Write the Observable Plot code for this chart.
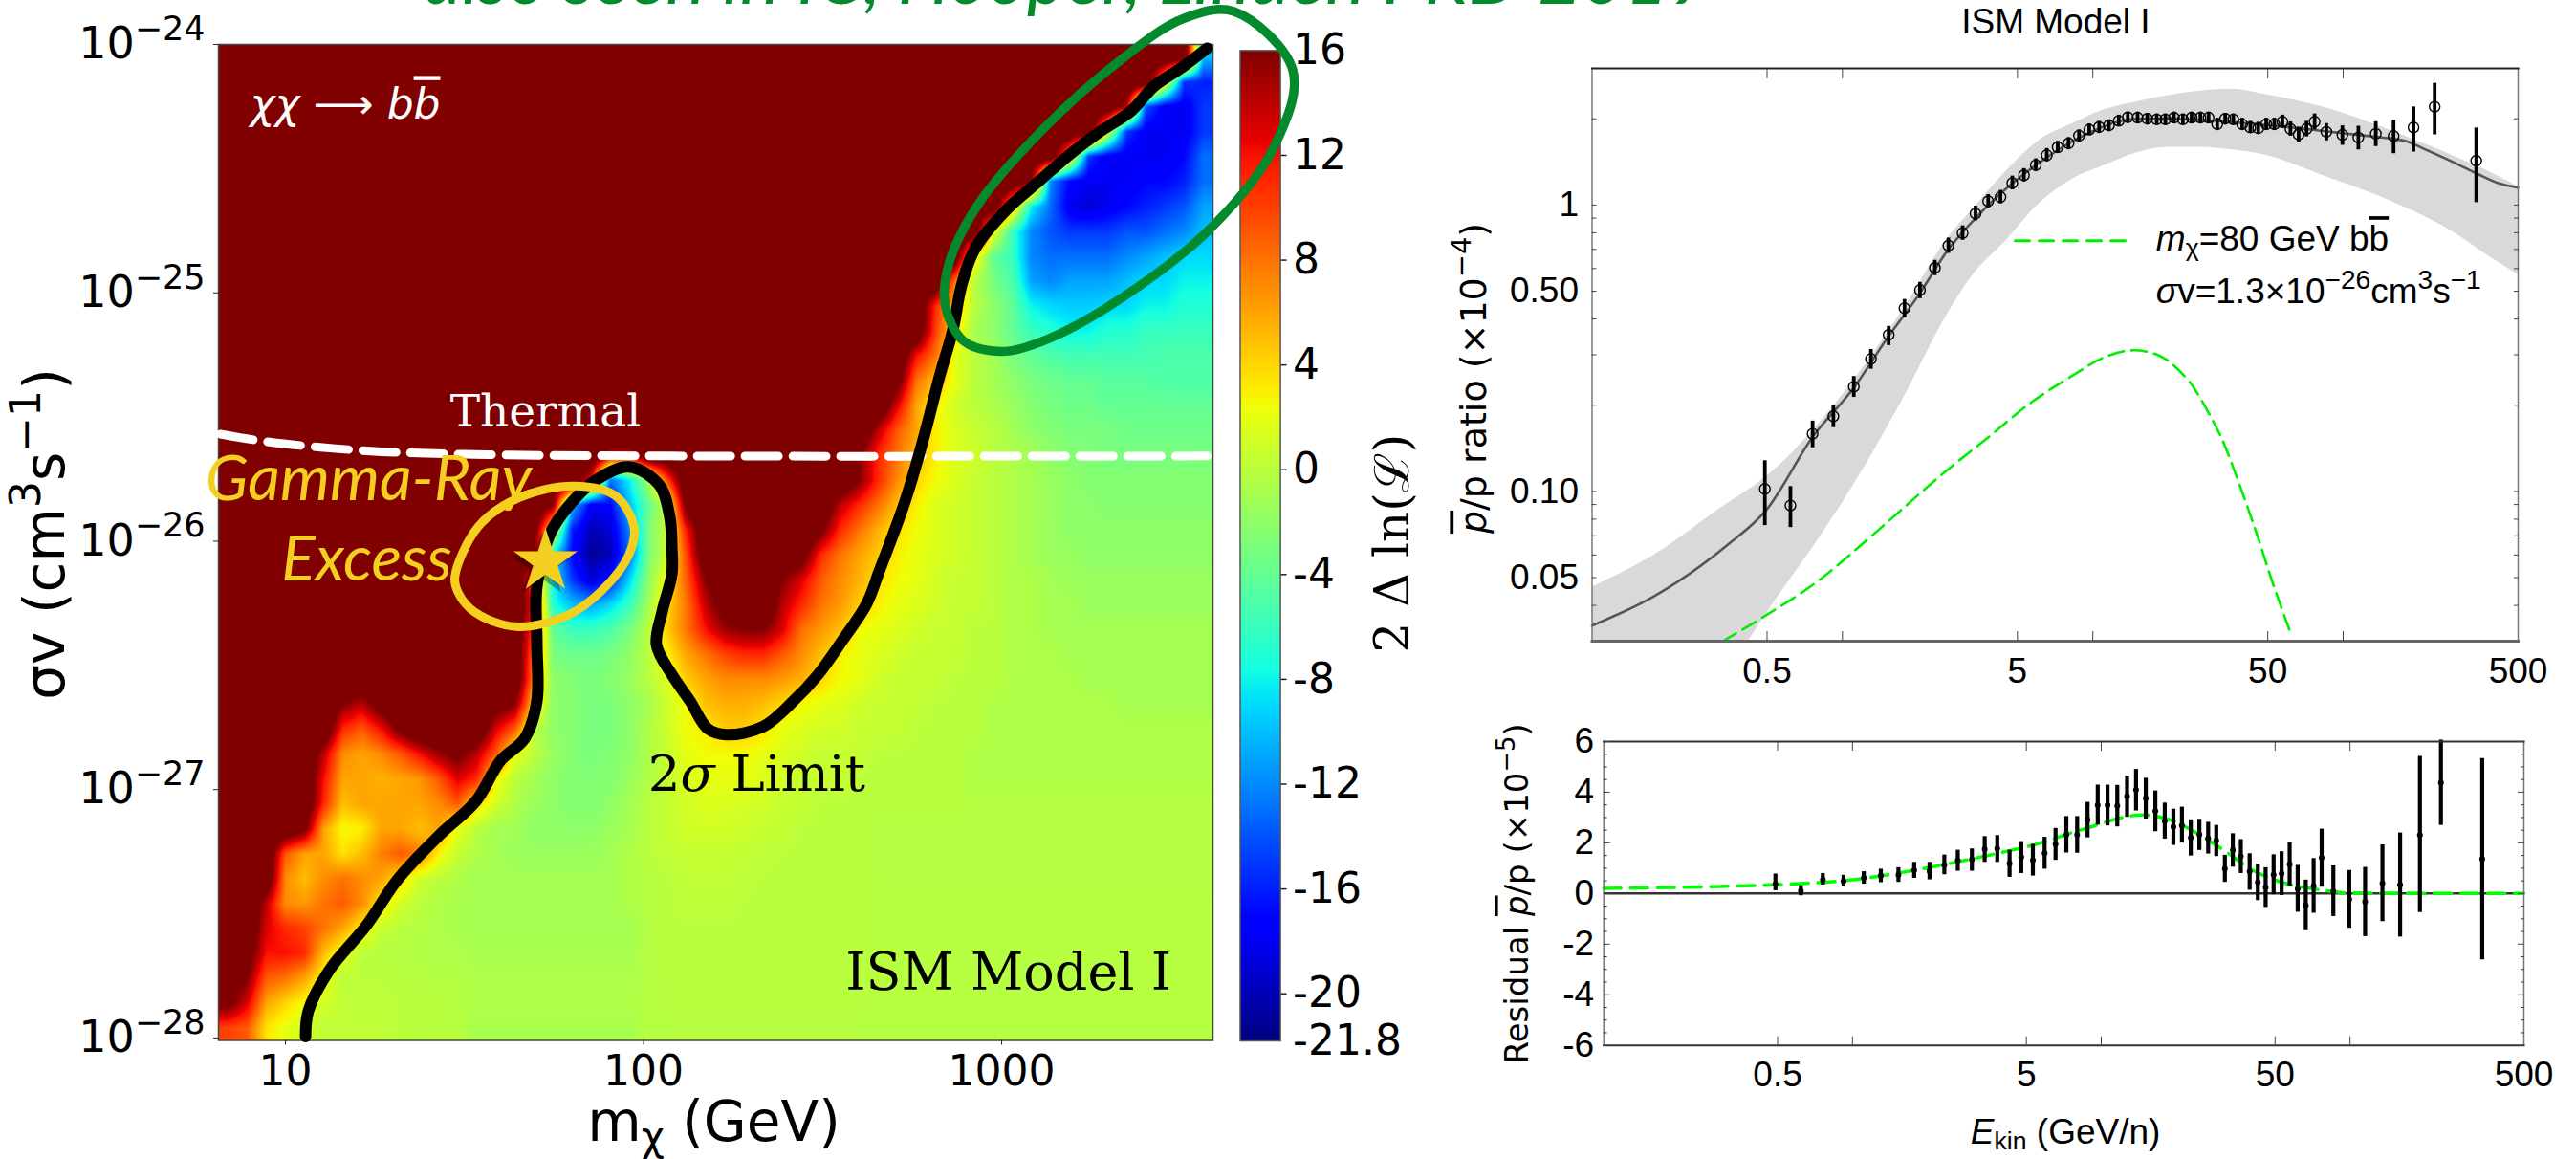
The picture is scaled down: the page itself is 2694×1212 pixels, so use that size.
<!DOCTYPE html>
<html><head><meta charset="utf-8">
<script src="https://cdn.jsdelivr.net/npm/d3@7"></script>
<script src="https://cdn.jsdelivr.net/npm/@observablehq/plot@0.6"></script>
<style>html,body{margin:0;background:#fff;overflow:hidden}#page{position:relative;width:2694px;height:1212px;overflow:hidden}#page svg{position:absolute;left:0;top:0}</style>
</head><body><div id="page"></div>
<script>
// ---------- 2 Delta ln(L) on a regular log-log grid (rows top to bottom) ----------
const fieldRows = [
[20,20,20,20,20,20,20,20,20,20,20,20,20,20,20,20,20,20,20,20,20,20,20,20,20,20,20,20,20,20,20,20,20,20,20,20,20,20,20,20,20,20,20,20,20,20,20,20,20,20,20,-10],
[20,20,20,20,20,20,20,20,20,20,20,20,20,20,20,20,20,20,20,20,20,20,20,20,20,20,20,20,20,20,20,20,20,20,20,20,20,20,20,20,20,20,20,20,20,20,20,20,20,4,-15,-16],
[20,20,20,20,20,20,20,20,20,20,20,20,20,20,20,20,20,20,20,20,20,20,20,20,20,20,20,20,20,20,20,20,20,20,20,20,20,20,20,20,20,20,20,20,20,20,20,14,-14,-18,-18,-15],
[20,20,20,20,20,20,20,20,20,20,20,20,20,20,20,20,20,20,20,20,20,20,20,20,20,20,20,20,20,20,20,20,20,20,20,20,20,20,20,20,20,20,20,20,20,20,2,-15,-18,-18,-18,-15],
[20,20,20,20,20,20,20,20,20,20,20,20,20,20,20,20,20,20,20,20,20,20,20,20,20,20,20,20,20,20,20,20,20,20,20,20,20,20,20,20,20,20,20,20,6,-15,-18,-18,-18,-18,-17,-13],
[20,20,20,20,20,20,20,20,20,20,20,20,20,20,20,20,20,20,20,20,20,20,20,20,20,20,20,20,20,20,20,20,20,20,20,20,20,20,20,20,20,20,16,-12,-17,-18,-18,-18,-17,-17,-16,-13],
[20,20,20,20,20,20,20,20,20,20,20,20,20,20,20,20,20,20,20,20,20,20,20,20,20,20,20,20,20,20,20,20,20,20,20,20,20,20,20,20,20,6,-8,-13,-18,-19,-18,-17,-16,-15,-14,-11],
[20,20,20,20,20,20,20,20,20,20,20,20,20,20,20,20,20,20,20,20,20,20,20,20,20,20,20,20,20,20,20,20,20,20,20,20,20,20,20,20,3,-6,-12,-14,-15,-15,-15,-14,-14,-13,-12,-10],
[20,20,20,20,20,20,20,20,20,20,20,20,20,20,20,20,20,20,20,20,20,20,20,20,20,20,20,20,20,20,20,20,20,20,20,20,20,20,20,4,-4,-6,-12,-13,-13,-13,-13,-12,-11,-10,-9,-9],
[20,20,20,20,20,20,20,20,20,20,20,20,20,20,20,20,20,20,20,20,20,20,20,20,20,20,20,20,20,20,20,20,20,20,20,20,20,20,8,0,-3,-5,-11,-12,-11,-11,-11,-10,-9,-9,-8,-8],
[20,20,20,20,20,20,20,20,20,20,20,20,20,20,20,20,20,20,20,20,20,20,20,20,20,20,20,20,20,20,20,20,20,20,20,20,20,11,5,0,-2,-4,-8,-9,-9.5,-9.5,-9,-9,-8,-8,-7,-7],
[20,20,20,20,20,20,20,20,20,20,20,20,20,20,20,20,20,20,20,20,20,20,20,20,20,20,20,20,20,20,20,20,20,20,20,20,20,10,4,-1,-2,-4,-6,-7,-8,-8,-7,-7,-6,-6,-6,-6],
[20,20,20,20,20,20,20,20,20,20,20,20,20,20,20,20,20,20,20,20,20,20,20,20,20,20,20,20,20,20,20,20,20,20,20,20,12,8,2,0,-1,-3,-4,-5,-5.5,-5.5,-5.5,-5.5,-5.5,-5,-5,-5],
[20,20,20,20,20,20,20,20,20,20,20,20,20,20,20,20,20,20,20,20,20,20,20,20,20,20,20,20,20,20,20,20,20,20,20,18,8,5,2,0,-1,-2,-3,-3.5,-4,-4,-4.5,-4.5,-4.5,-5,-5,-5],
[20,20,20,20,20,20,20,20,20,20,20,20,20,20,20,20,20,20,20,20,20,20,20,20,20,20,20,20,20,20,20,20,20,20,20,13,6,3,1,0,-.5,-1.5,-2.5,-3,-3.5,-3.5,-4,-4,-4,-4,-4,-4],
[20,20,20,20,20,20,20,20,20,20,20,20,20,20,20,20,20,20,20,20,20,20,20,20,20,20,20,20,20,20,20,20,20,20,14,9,6,3,1.5,.5,0,-1,-2,-2.5,-3,-3,-3,-3.5,-3.5,-3.5,-3.5,-3.5],
[20,20,20,20,20,20,20,20,20,20,20,20,20,20,20,20,20,20,20,20,14,14,20,20,20,20,20,20,20,20,20,20,20,16,11,8,5,3,1.5,1,0,-.5,-1,-2,-2.5,-2.5,-3,-3,-3,-3,-3,-3],
[20,20,20,20,20,20,20,20,20,20,20,20,20,20,20,20,20,20,20,12,-13,-8,-1,10,20,20,20,20,20,20,20,20,20,16,11,7,4,2.5,1.5,.5,0,-.5,-1,-1.5,-2,-2.5,-2.5,-2.5,-2.5,-2.5,-2.5,-2.5],
[20,20,20,20,20,20,20,20,20,20,20,20,20,20,20,20,20,16,-10,-18,-17,-10,-4,1,18,20,20,20,20,20,20,20,14,11,8,5,3,1.5,1,.5,0,-.5,-1,-1.5,-2,-2,-2.5,-2.5,-2.5,-2.5,-2.5,-2.5],
[20,20,20,20,20,20,20,20,20,20,20,20,20,20,20,20,18,2,-16,-20,-19,-12,-3,1,12,20,20,20,20,20,20,17,11,8,5.5,3.5,2.5,1.5,1,.5,0,-.5,-1,-1.5,-2,-2,-2,-2,-2,-2,-2,-2],
[20,20,20,20,20,20,20,20,20,20,20,20,20,20,20,20,17,-8,-17,-21,-20,-13,-3,1,10,20,20,20,20,20,18,11,8,6,4.5,3,2,1.5,1,.5,0,-.5,-1,-1.5,-1.5,-2,-2,-2,-2,-2,-2,-2],
[20,20,20,20,20,20,20,20,20,20,20,20,20,20,20,20,10,-8,-15,-19,-16,-9,-2,3,9,16,18,20,20,16,13,9,7,5.5,3.5,2.5,2,1,.5,.5,0,-.5,-.5,-1,-1.5,-1.5,-1.5,-1.5,-1.5,-1.5,-1.5,-1.5],
[20,20,20,20,20,20,20,20,20,20,20,20,20,20,20,20,12,-7,-10,-11,-9,-6,-1,4,8,14,18,20,20,14,11,8,6.5,4.5,3,2,1.5,1,.5,.5,0,-.5,-.5,-1,-1,-1.5,-1.5,-1.5,-1.5,-1.5,-1.5,-1.5],
[20,20,20,20,20,20,20,20,20,20,20,20,20,20,20,20,10,-4,-6,-6,-5,-3,0,4.5,8,12,15,16,16,13,8,6.5,5,2.5,2,1.5,1,.5,.5,0,0,-.5,-.5,-1,-1,-1,-1,-1,-1,-1,-1,-1],
[20,20,20,20,20,20,20,20,20,20,20,20,20,20,20,20,8,-3,-3.5,-3.5,-3,-2,0,3,6,8,10,11,11,9,7,5,3,2,1.5,1,.5,.5,.5,0,0,-.5,-.5,-.5,-1,-1,-1,-1,-1,-1,-1,-1],
[20,20,20,20,20,20,20,20,20,20,20,20,20,20,20,20,7,-2,-2.5,-3,-2.5,-1.5,0,1.5,4.5,6,7,7,7,6.5,5.5,4,2.5,2,1,.5,.5,.5,0,0,0,-.5,-.5,-.5,-.5,-1,-1,-1,-1,-1,-1,-1],
[20,20,20,20,20,20,16,14,18,20,20,20,20,20,18,16,4,-2,-2.5,-3,-3,-2,-1,1,2.5,5,5.5,5.5,5,4,2.5,2,1.5,1,.5,.5,.5,0,0,0,-.5,-.5,-.5,-.5,-.5,-.5,-.5,-1,-1,-1,-1,-1],
[20,20,20,20,20,20,11,9,12,17,20,20,20,20,13,9,0,-2,-2.5,-3,-3,-2,-.5,1,2.5,3,4.5,4.5,3.5,2,1.5,1,1,.5,.5,.5,0,0,0,0,-.5,-.5,-.5,-.5,-.5,-.5,-.5,-.5,-.5,-.5,-.5,-.5],
[20,20,20,20,20,14,7,6,7,9,12,15,17,14,9,2,0,-1.5,-2.5,-3,-2.5,-2,-.5,.5,2,2.5,2.5,2.5,2,1.5,1,.5,.5,.5,0,0,0,0,0,-.5,-.5,-.5,-.5,-.5,-.5,-.5,-.5,-.5,-.5,-.5,-.5,-.5],
[20,20,20,20,20,12,6,6,5.5,6,6.5,9,13,11,3,0,-1,-2,-2.5,-2.5,-2.5,-1.5,-.5,.5,1.5,2,2,2,1.5,1,.5,.5,.5,0,0,0,0,0,0,-.5,-.5,-.5,-.5,-.5,-.5,-.5,-.5,-.5,-.5,-.5,-.5,-.5],
[20,20,20,20,20,11,5,6,6,6,6,7,9,4,1,-.5,-1.5,-2,-2.5,-2.5,-2,-1,0,.5,1,1.5,1.5,1.2,1,.5,.5,0,0,0,0,0,0,0,0,-.3,-.3,-.3,-.3,-.3,-.3,-.3,-.3,-.3,-.3,-.3,-.3,-.3],
[20,20,20,20,17,6,2.5,3,6,6,5,6,2,0,-1,-1,-2,-2,-2,-2,-1.5,-1,0,.5,1,1,1,.8,.5,.5,0,0,0,0,-.3,-.3,-.3,-.3,-.3,-.3,-.3,-.3,-.3,-.3,-.3,-.3,-.3,-.3,-.3,-.3,-.3,-.3],
[20,20,20,9,6,6,3.5,5,7.5,9,7.5,3,.5,-.5,-1,-1.5,-1.5,-1.5,-1.5,-1.5,-1,-.5,0,.3,.5,.5,.5,.3,.2,0,0,0,0,0,-.3,-.3,-.3,-.3,-.3,-.3,-.3,-.3,-.3,-.3,-.3,-.3,-.3,-.3,-.3,-.3,-.3,-.3],
[20,20,20,7,5,7,8,7,6,4,1,0,-.5,-1,-1,-1,-1,-1,-1,-1,-1,-.5,-.3,0,.3,.3,.3,.2,0,0,0,0,0,0,-.3,-.3,-.3,-.3,-.3,-.3,-.3,-.3,-.3,-.3,-.3,-.3,-.3,-.3,-.3,-.3,-.3,-.3],
[20,20,14,7,6.5,8,9,7,3.5,1,0,-.5,-.8,-1,-1,-1,-1,-1,-1,-1,-1,-.5,-.3,0,.2,.2,.2,0,0,0,0,0,0,0,-.2,-.2,-.2,-.2,-.2,-.2,-.2,-.2,-.2,-.2,-.2,-.2,-.2,-.2,-.2,-.2,-.2,-.2],
[20,20,13,11,10,8,6,3,.5,0,-.3,-.5,-.8,-1,-1,-1,-1,-1,-1,-1,-1,-1,-.3,0,0,0,0,0,0,0,0,0,0,0,-.2,-.2,-.2,-.2,-.2,-.2,-.2,-.2,-.2,-.2,-.2,-.2,-.2,-.2,-.2,-.2,-.2,-.2],
[20,18,12,12,11,5,2,0,-.2,-.3,-.5,-.5,-.5,-.8,-.8,-.8,-.8,-.8,-.8,-.8,-.8,-.8,-.3,0,0,0,0,0,0,0,0,0,0,0,-.2,-.2,-.2,-.2,-.2,-.2,-.2,-.2,-.2,-.2,-.2,-.2,-.2,-.2,-.2,-.2,-.2,-.2],
[20,16,9,8,6,2.5,0,0,0,0,-.2,-.3,-.3,-.6,-.6,-.6,-.6,-.6,-.6,-.6,-.6,-.6,-.3,-.1,-.1,-.1,-.1,-.1,-.1,-.1,-.1,-.1,-.1,-.1,-.2,-.2,-.2,-.2,-.2,-.2,-.2,-.2,-.2,-.2,-.2,-.2,-.2,-.2,-.2,-.2,-.2,-.2],
[17,13,6,4,2.5,1,.3,.2,.2,0,0,-.1,-.2,-.5,-.5,-.5,-.5,-.5,-.5,-.5,-.5,-.5,-.2,-.1,-.1,-.1,-.1,-.1,-.1,-.1,-.1,-.1,-.1,-.1,-.2,-.2,-.2,-.2,-.2,-.2,-.2,-.2,-.2,-.2,-.2,-.2,-.2,-.2,-.2,-.2,-.2,-.2],
[10,9,3.5,2,1,.2,.2,.2,.2,0,0,-.1,-.2,-.8,-.8,-.8,-.8,-.8,-.8,-.8,-.8,-.8,-.3,-.2,-.2,-.2,-.2,-.2,-.2,-.2,-.2,-.2,-.2,-.2,-.3,-.3,-.3,-.3,-.3,-.3,-.3,-.3,-.3,-.3,-.3,-.3,-.3,-.3,-.3,-.3,-.3,-.3]
];
// ---------- curves on the heat map (log10 mass, log10 sigma v) ----------
const limitLogM  = [3.574,3.507,3.425,3.363,3.272,3.190,3.107,3.016,2.925,2.888,2.864,2.826,2.781,2.730,2.658,2.623,2.554,2.487,2.418,2.332,2.231,2.180,2.130,2.079,2.036,2.052,2.079,2.079,2.073,2.044,1.959,1.862,1.788,1.740,1.702,1.702,1.702,1.668,1.601,1.531,1.430,1.312,1.227,1.123,1.064,1.056];
const limitLogSv = [-24.015,-24.089,-24.169,-24.266,-24.354,-24.443,-24.547,-24.662,-24.824,-24.970,-25.147,-25.339,-25.590,-25.840,-26.121,-26.252,-26.402,-26.537,-26.644,-26.748,-26.779,-26.756,-26.644,-26.537,-26.417,-26.283,-26.132,-26.028,-25.901,-25.774,-25.701,-25.759,-25.863,-25.967,-26.182,-26.413,-26.644,-26.794,-26.883,-27.048,-27.183,-27.364,-27.545,-27.726,-27.891,-27.995];
const thermalLogM  = [.818,.955,1.227,1.499,2.073,3.574];
const thermalLogSv = [-25.569,-25.601,-25.636,-25.650,-25.657,-25.657];
const goldLogM  = [1.473,1.539,1.654,1.806,1.921,1.973,1.959,1.884,1.788,1.644,1.529,1.483];
const goldLogSv = [-26.144,-25.940,-25.824,-25.778,-25.817,-25.940,-26.055,-26.198,-26.298,-26.344,-26.286,-26.209];
const greenLogM  = [3.649,3.813,3.761,3.587,3.323,3.117,2.995,2.893,2.842,2.853,2.933,3.117,3.323,3.507];
const greenLogSv = [-23.867,-24.104,-24.412,-24.735,-25.032,-25.193,-25.236,-25.193,-25.047,-24.881,-24.647,-24.339,-24.073,-23.896];
const massTicks = [10,100,1000];
const svTicks = [1e-24,1e-25,1e-26,1e-27,1e-28];
const barTicks = [16,12,8,4,0,-4,-8,-12,-16,-20,-21.8];
// ---------- antiproton data ----------
const energy = [.49,.62,.76,.92,1.11,1.30,1.53,1.77,2.04,2.34,2.65,3.02,3.40,3.82,4.28,4.77,5.31,5.92,6.55,7.24,8.0,8.81,9.68,10.6,11.6,12.7,13.8,15.1,16.5,18.0,19.5,21.1,22.9,24.8,26.9,29.0,31.4,33.8,36.4,39.5,42.6,45.8,49.3,53.1,57.2,61.6,66.4,71.4,76.9,85.7,99.3,115,135,159,191,232,340];
const ratio = [.102,.0893,.159,.183,.232,.29,.352,.436,.505,.603,.721,.798,.933,1.031,1.066,1.194,1.27,1.378,1.493,1.591,1.641,1.746,1.832,1.87,1.896,1.968,2.024,2.018,2.0,1.99,1.99,2.018,1.99,2.018,2.018,2.018,1.914,2.0,1.99,1.914,1.866,1.852,1.914,1.914,1.954,1.842,1.762,1.842,1.954,1.80,1.758,1.72,1.772,1.741,1.866,2.204,1.428];
const ratioHi = [.128,.104,.176,.199,.252,.313,.377,.468,.537,.641,.767,.846,.992,1.087,1.125,1.262,1.34,1.45,1.575,1.67,1.72,1.83,1.92,1.96,1.985,2.06,2.11,2.11,2.09,2.08,2.08,2.11,2.08,2.11,2.11,2.11,2.01,2.09,2.08,2.01,1.96,1.945,2.01,2.01,2.06,1.95,1.87,1.96,2.08,1.925,1.89,1.884,1.954,1.974,2.2,2.66,1.857];
const ratioLo = [.076,.0748,.142,.167,.213,.267,.323,.404,.471,.567,.678,.753,.88,.977,1.01,1.13,1.205,1.31,1.415,1.515,1.565,1.665,1.75,1.785,1.81,1.88,1.94,1.93,1.915,1.905,1.905,1.93,1.905,1.93,1.93,1.93,1.825,1.915,1.905,1.825,1.78,1.765,1.825,1.825,1.855,1.74,1.66,1.73,1.83,1.675,1.616,1.558,1.6,1.511,1.531,1.758,1.02];
const resid = [.37,.11,.54,.49,.62,.71,.73,.92,.88,1.13,1.31,1.34,1.75,1.78,1.18,1.44,1.32,1.59,1.95,2.32,2.32,2.91,3.49,3.49,3.46,3.84,4.09,3.76,3.25,2.86,2.63,2.69,2.20,2.33,2.18,2.09,.98,1.71,1.47,.87,.45,.24,.74,.79,1.16,.18,-.47,.30,1.41,.09,-.23,-.33,.40,.34,2.31,4.38,1.36];
const residHi = [.77,.31,.79,.72,.86,.96,1.02,1.23,1.23,1.52,1.71,1.76,2.25,2.29,1.71,2.05,1.94,2.22,2.57,3.04,3.04,3.60,4.28,4.28,4.27,4.63,4.90,4.55,4.05,3.57,3.33,3.41,2.91,2.93,2.81,2.69,1.51,2.36,2.13,1.57,1.16,1.02,1.53,1.65,2.01,1.11,.53,1.38,2.54,1.09,.91,1.03,1.92,2.39,5.41,6.06,5.33];
const residLo = [.11,-.09,.34,.26,.37,.43,.44,.60,.54,.74,.88,.88,1.23,1.23,.64,.79,.69,.96,1.31,1.60,1.59,2.20,2.70,2.67,2.63,3.01,3.26,2.94,2.44,2.15,1.90,1.99,1.48,1.70,1.56,1.46,.44,1.04,.79,.13,-.28,-.55,-.05,-.08,.29,-.74,-1.47,-.78,.25,-.91,-1.37,-1.70,-1.11,-1.72,-.75,2.69,-2.62];
const modelE = [.1,.176,.344,.5,.76,1.11,1.5,2,2.65,3.4,4.3,5.3,6.5,8,10,12,15,20,30,50,80,120,160,180,208,278,343,419,500];
const modelV = [.034,.0429,.0646,.0868,.155,.23,.34,.48,.70,.90,1.10,1.28,1.46,1.64,1.81,1.93,2.0,2.0,1.97,1.9,1.82,1.75,1.70,1.667,1.578,1.406,1.285,1.19,1.151];
const bandE = [.1,.176,.344,.42,.53,.77,1.15,1.83,2.56,3.33,4.5,6.1,8.4,11.1,14.9,20,26.8,35.8,48,86,155,278,374,500];
const bandHi = [.0463,.0598,.0902,.101,.118,.165,.255,.46,.74,.97,1.31,1.68,1.93,2.15,2.29,2.41,2.5,2.54,2.44,2.18,1.82,1.48,1.32,1.16];
const bandLo = [.012,.016,.024,.03,.0407,.0646,.111,.227,.40,.571,.75,1.01,1.24,1.371,1.519,1.591,1.591,1.558,1.50,1.253,1.033,.80,.67,.571];
const dmE = [.333,.48,.77,1.22,1.71,2.56,3.84,5.7,8.55,11.1,14.6,19,24,26,32.5,39,45.5,52,62];
const dmV = [.03,.0363,.0475,.0663,.0859,.1167,.155,.205,.258,.294,.311,.294,.245,.222,.155,.1026,.0698,.0487,.0316];
const dmResE = [.1,.47,.62,1.0,1.87,3.34,5.4,8.6,14.6,19,22.7,31.6,41,55,78,97,500];
const dmResV = [.2,.34,.39,.54,.96,1.46,1.93,2.56,3.1,2.9,2.54,1.66,.9,.4,.13,.02,0];
const legendE = [4.9,14.1];
const legendV = [.75,.75];
const xMajor = [.5,1,5,10,50,100];
const xLabels = [.5,5,50,500];
const ratioTicks = [2,1,.9,.8,.7,.6,.5,.4,.3,.2,.1,.09,.08,.07,.06,.05,.04];
const ratioLabels = [1,.5,.1,.05];
const residMinor = [-5.5,-5,-4.5,-3.5,-3,-2.5,-1.5,-1,-.5,.5,1,1.5,2.5,3,3.5,4.5,5,5.5];
const residMajor = [-6,-4,-2,0,2,4,6];

// ---------- helpers ----------
const nCols = fieldRows[0].length, nRows = fieldRows.length;
const massDomain = [6.5,3890], svDomain = [10**-28.01,1e-24];
const lx0 = Math.log10(massDomain[0]), lx1 = Math.log10(massDomain[1]), ly0 = Math.log10(svDomain[0]), ly1 = Math.log10(svDomain[1]);
function field(m, s) {
  const u = Math.max(0, Math.min(nCols-1, (Math.log10(m)-lx0)/(lx1-lx0)*nCols-.5));
  const v = Math.max(0, Math.min(nRows-1, (ly1-Math.log10(s))/(ly1-ly0)*nRows-.5));
  const c = Math.min(nCols-2, Math.floor(u)), r = Math.min(nRows-2, Math.floor(v)), a = u-c, b = v-r;
  return (1-b)*((1-a)*fieldRows[r][c]+a*fieldRows[r][c+1]) + b*((1-a)*fieldRows[r+1][c]+a*fieldRows[r+1][c+1]);
}
const ch = (xs, ys) => d3.scaleLinear().domain(xs).range(ys);
const jr = ch([0,.35,.66,.89,1],[0,0,1,1,.5]), jg = ch([0,.125,.375,.64,.91,1],[0,0,1,1,0,0]), jb = ch([0,.11,.34,.65,1],[.5,1,1,0,0]);
const jet = (t) => `rgb(${Math.round(jr(t)*255)},${Math.round(jg(t)*255)},${Math.round(jb(t)*255)})`;
const colorOpt = {type:"linear", domain:[-21.8,16], clamp:true, interpolate:jet, legend:false};
const zip = (...cols) => cols[0].map((_,i)=>cols.map(c=>c[i]));
const logLine = (ms, ss) => zip(ms, ss).map(([m,s])=>({x:10**m, y:10**s}));
const note = (m, s, t, o) => Plot.text([{x:10**m, y:10**s, t}], {x:"x", y:"y", text:"t", lineAnchor:"bottom", ...o});

// mini markup: ^{sup} _{sub} *{italic} ~{overline} %{italic overline}
function rich(svg) {
  svg.querySelectorAll("text").forEach(t => {
    const s = t.textContent;
    if (!/[\^_*~%]\{/.test(s)) return;
    const base = parseFloat(getComputedStyle(t).fontSize);
    t.textContent = "";
    let pending = 0;
    for (const m of s.matchAll(/([\^_*~%])\{([^}]*)\}|([^\^_*~%]+)/g)) {
      const span = document.createElementNS("http://www.w3.org/2000/svg","tspan");
      span.textContent = m[2] ?? m[3];
      let shift = 0;
      if (m[1] === "^") { shift = -.42*base; span.setAttribute("font-size", .76*base); }
      if (m[1] === "_") { shift = .17*base; span.setAttribute("font-size", .72*base); }
      if (m[1] === "*" || m[1] === "%") span.setAttribute("font-style","italic");
      if (m[1] === "~" || m[1] === "%") span.setAttribute("text-decoration","overline");
      if (pending + shift) span.setAttribute("dy", pending + shift);
      pending = -shift;
      t.appendChild(span);
    }
  });
}
const page = document.getElementById("page");
const put = (svg) => { page.appendChild(svg); rich(svg); };
const W = 2694, H = 1212;
const baseStyle = (font) => ({background:"transparent", overflow:"visible", fontFamily:font});

// ---------- colour bar (below the heat-map layer, the green ellipse crosses it) ----------
put(Plot.plot({
  width:W, height:H, marginLeft:1296.5, marginRight:W-1338.6, marginTop:52.4, marginBottom:H-1088,
  style:baseStyle("DejaVu Sans"),
  x:{domain:[0,1], axis:null}, y:{domain:[-21.8,16], axis:null}, color:colorOpt,
  marks:[
    Plot.raster({fill:(x,y)=>y, x1:0, x2:1, y1:-21.8, y2:16, pixelSize:2}),
    Plot.frame({stroke:"#555", strokeWidth:1.5}),
    Plot.axisY(barTicks.slice(0,-1), {anchor:"right", tickSize:6, text:null, stroke:"#222", strokeWidth:1.5, label:null}),
    Plot.axisY(barTicks, {anchor:"right", tickSize:0, tickPadding:13, fontSize:44, label:null, fill:"#000", tickFormat:d=>String(d)})
  ]
}));

// ---------- heat map ----------
put(Plot.plot({
  width:W, height:H, marginLeft:228, marginRight:W-1268, marginTop:46, marginBottom:H-1087.5,
  style:baseStyle("DejaVu Sans"),
  x:{type:"log", domain:massDomain, axis:null}, y:{type:"log", domain:svDomain, axis:null}, color:colorOpt,
  marks:[
    Plot.raster({fill:field, x1:massDomain[0], x2:massDomain[1], y1:svDomain[0], y2:svDomain[1], pixelSize:1}),
    Plot.frame({stroke:"#444", strokeWidth:1.5}),
    Plot.axisX(massTicks, {anchor:"bottom", tickSize:5, text:null, stroke:"#222", label:null}),
    Plot.axisY(svTicks, {anchor:"left", tickSize:5, text:null, stroke:"#222", label:null}),
    Plot.axisX(massTicks, {anchor:"bottom", tickSize:0, tickPadding:16, fontSize:44, label:null, fill:"#000", tickFormat:d=>String(d)}),
    Plot.axisY(svTicks, {anchor:"left", tickSize:0, tickPadding:14, fontSize:46, label:null, fill:"#000", tickFormat:d=>`10^{−${Math.round(-Math.log10(d))}}`}),
    Plot.line(logLine(thermalLogM, thermalLogSv), {x:"x", y:"y", stroke:"#fff", strokeWidth:9, strokeDasharray:"35,15", curve:"catmull-rom"}),
    Plot.line(logLine(limitLogM, limitLogSv), {x:"x", y:"y", stroke:"#000", strokeWidth:12, curve:"catmull-rom", strokeLinejoin:"round"}),
    Plot.line(logLine(goldLogM, goldLogSv), {x:"x", y:"y", stroke:"#f5cf20", strokeWidth:9, curve:"catmull-rom-closed"}),
    Plot.dot([{x:10**1.726, y:10**-26.082}], {x:"x", y:"y", symbol:"star", r:21, fill:"#000", fillOpacity:.35, stroke:"none", dx:-4, dy:4}),
    Plot.dot([{x:10**1.726, y:10**-26.082}], {x:"x", y:"y", symbol:"star", r:21, fill:"#f5cf20", stroke:"none"}),
    Plot.line(logLine(greenLogM, greenLogSv), {x:"x", y:"y", stroke:"#028a2c", strokeWidth:9.5, curve:"catmull-rom-closed"}),
    note(3.184,-23.838,"also seen in IC, Hooper, Linden PRD 2019",{fill:"#028a2c", fontSize:78, fontFamily:"Lato", fontStyle:"italic"}),
    note(.901,-24.300,"*{χχ} ⟶ *{b}%{b}",{fill:"#fff", fontSize:44, textAnchor:"start"}),
    note(1.726,-25.540,"Thermal",{fill:"#fff", fontSize:47, fontFamily:"DejaVu Serif"}),
    note(1.232,-25.836,"Gamma-Ray",{fill:"#f5cf20", fontSize:66, fontFamily:"Lato", fontStyle:"italic"}),
    note(1.227,-26.159,"Excess",{fill:"#f5cf20", fontSize:66, fontFamily:"Lato", fontStyle:"italic"}),
    note(2.316,-27.006,"2*{σ} Limit",{fill:"#000", fontSize:53, fontFamily:"DejaVu Serif"}),
    note(3.019,-27.807,"ISM Model I",{fill:"#000", fontSize:54, fontFamily:"DejaVu Serif"}),
    note(2.196,-28.415,"m_{χ} (GeV)",{fill:"#000", fontSize:58}),
    note(.381,-25.971,"σv (cm^{3}s^{−1})",{fill:"#000", fontSize:58, rotate:-90}),
    note(4.137,-26.009,"2 Δ ln(ℒ)",{fill:"#000", fontSize:50, fontFamily:"DejaVu Serif", rotate:-90})
  ]
}));

// ---------- ratio panel ----------
const points = energy.map((e,i)=>({e, v:ratio[i], hi:ratioHi[i], lo:ratioLo[i], r:resid[i], rHi:residHi[i], rLo:residLo[i]}));
const sans = "Liberation Sans";
put(Plot.plot({
  width:W, height:H, marginLeft:1664.5, marginRight:W-2633, marginTop:71, marginBottom:H-670,
  style:baseStyle(sans),
  x:{type:"log", domain:[.1,500], axis:null}, y:{type:"log", domain:[.03,3], axis:null},
  marks:[
    Plot.areaY(zip(bandE,bandHi,bandLo), {x:d=>d[0], y1:d=>d[2], y2:d=>d[1], fill:"#d9d9d9", curve:"monotone-x", clip:true}),
    Plot.line(zip(modelE,modelV), {x:d=>d[0], y:d=>d[1], stroke:"#555", strokeWidth:2.6, curve:"monotone-x"}),
    Plot.line(zip(dmE,dmV), {x:d=>d[0], y:d=>d[1], stroke:"#00ee00", strokeWidth:2.6, strokeDasharray:"16,8", curve:"catmull-rom"}),
    Plot.line(zip(legendE,legendV), {x:d=>d[0], y:d=>d[1], stroke:"#00ee00", strokeWidth:3, strokeDasharray:"15,10"}),
    Plot.ruleX(points, {x:"e", y1:"lo", y2:"hi", stroke:"#000", strokeWidth:3.8}),
    Plot.dot(points, {x:"e", y:"v", r:5.5, stroke:"#000", strokeWidth:1.4, fill:"none"}),
    Plot.frame({anchor:"left", stroke:"#777", strokeWidth:1.5}),
    Plot.frame({anchor:"right", stroke:"#777", strokeWidth:1.5}),
    Plot.frame({anchor:"top", stroke:"#222", strokeWidth:2}),
    Plot.frame({anchor:"bottom", stroke:"#666", strokeWidth:3}),
    Plot.axisX(xMajor, {anchor:"bottom", tickSize:-10, text:null, stroke:"#444", label:null}),
    Plot.axisX(xMajor, {anchor:"top", tickSize:-10, text:null, stroke:"#444", label:null}),
    Plot.axisY(ratioTicks, {anchor:"left", tickSize:-5, text:null, stroke:"#444", label:null}),
    Plot.axisY(ratioTicks, {anchor:"right", tickSize:-5, text:null, stroke:"#444", label:null}),
    Plot.text(xLabels, {x:d=>d, y:()=>.02148, text:d=>String(d), lineAnchor:"bottom", fontSize:37, fill:"#000"}),
    Plot.axisY(ratioLabels, {anchor:"left", tickSize:0, tickPadding:14, fontSize:37, label:null, fill:"#000", tickFormat:d=>d===1?"1":d.toFixed(2)}),
    Plot.text([{x:7.11,y:3.98,t:"ISM Model I"}], {x:"x",y:"y",text:"t",lineAnchor:"bottom",fontSize:37,fill:"#000"}),
    Plot.text([{x:17.9,y:.693,t:"*{m}_{χ}=80 GeV b~{b}"}], {x:"x",y:"y",text:"t",lineAnchor:"bottom",textAnchor:"start",fontSize:37,fill:"#000"}),
    Plot.text([{x:17.9,y:.4535,t:"*{σ}v=1.3×10^{−26}cm^{3}s^{−1}"}], {x:"x",y:"y",text:"t",lineAnchor:"bottom",textAnchor:"start",fontSize:37,fill:"#000"}),
    Plot.text([{x:.0378,y:.2486,t:"%{p}/p ratio (×10^{−4})"}], {x:"x",y:"y",text:"t",lineAnchor:"bottom",rotate:-90,fontSize:38,fontFamily:"DejaVu Sans",fill:"#000"})
  ]
}));

// ---------- residual panel ----------
put(Plot.plot({
  width:W, height:H, marginLeft:1676.7, marginRight:W-2639, marginTop:775, marginBottom:H-1092.7,
  style:baseStyle(sans),
  x:{type:"log", domain:[.1,500], axis:null}, y:{domain:[-6,6], axis:null},
  marks:[
    Plot.ruleY([0], {stroke:"#333", strokeWidth:2.5}),
    Plot.line(zip(dmResE,dmResV), {x:d=>d[0], y:d=>d[1], stroke:"#00ff00", strokeWidth:3.5, strokeDasharray:"18,10", curve:"monotone-x"}),
    Plot.ruleX(points, {x:"e", y1:"rLo", y2:"rHi", stroke:"#000", strokeWidth:4.2}),
    Plot.dot(points, {x:"e", y:"r", r:3, fill:"#000", stroke:"none"}),
    Plot.frame({anchor:"left", stroke:"#777", strokeWidth:1.5}),
    Plot.frame({anchor:"right", stroke:"#777", strokeWidth:1.5}),
    Plot.frame({anchor:"top", stroke:"#333", strokeWidth:2}),
    Plot.frame({anchor:"bottom", stroke:"#333", strokeWidth:2}),
    Plot.axisX(xMajor, {anchor:"bottom", tickSize:-9, text:null, stroke:"#444", label:null}),
    Plot.axisX(xMajor, {anchor:"top", tickSize:-9, text:null, stroke:"#444", label:null}),
    Plot.axisY(residMajor, {anchor:"left", tickSize:-7, text:null, stroke:"#444", label:null}),
    Plot.axisY(residMajor, {anchor:"right", tickSize:-7, text:null, stroke:"#444", label:null}),
    Plot.axisY(residMinor, {anchor:"left", tickSize:-4, text:null, stroke:"#444", label:null}),
    Plot.axisY(residMinor, {anchor:"right", tickSize:-4, text:null, stroke:"#444", label:null}),
    Plot.text(xLabels, {x:d=>d, y:()=>-7.6, text:d=>String(d), lineAnchor:"bottom", fontSize:37, fill:"#000"}),
    Plot.axisY(residMajor, {anchor:"left", tickSize:0, tickPadding:10, fontSize:37, label:null, fill:"#000", tickFormat:d=>String(d)}),
    Plot.text([{x:.0497,y:0,t:"Residual %{p}/p (×10^{−5})"}], {x:"x",y:"y",text:"t",lineAnchor:"bottom",rotate:-90,fontSize:34,fontFamily:"DejaVu Sans",fill:"#000"}),
    Plot.text([{x:7.18,y:-9.87,t:"*{E}_{kin} (GeV/n)"}], {x:"x",y:"y",text:"t",lineAnchor:"bottom",fontSize:37,fill:"#000"})
  ]
}));
</script></body></html>
